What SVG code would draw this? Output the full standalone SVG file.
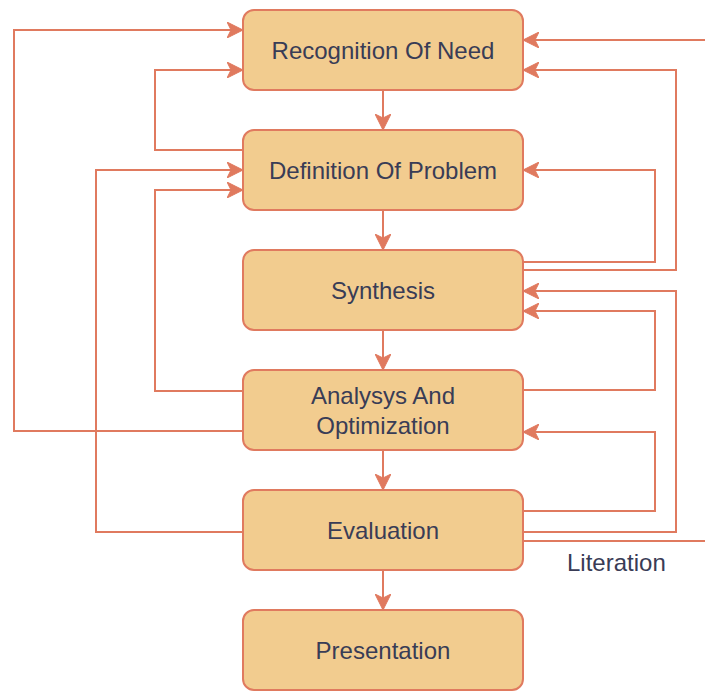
<svg xmlns="http://www.w3.org/2000/svg" width="705" height="692" viewBox="0 0 705 692">
  <style>
    .box rect { fill: #F2CC8F; stroke: #E07A5F; stroke-width: 2; }
    .box text, .lbl { font-family: "Liberation Sans", Arial, sans-serif; font-size: 24px; fill: #393C56; text-anchor: middle; }
    .lbl { text-anchor: start; }
    .edges path { fill: none; stroke: #E07A5F; stroke-width: 2; marker-end: url(#arrow); }
  </style>
  <defs>
    <marker id="arrow" viewBox="0 0 16 16" refX="15" refY="8" markerWidth="16" markerHeight="16" markerUnits="userSpaceOnUse" orient="auto">
      <path d="M0,0 L16,8 L0,16 L4,8 Z" fill="#E07A5F" stroke="#E07A5F" stroke-width="1"/>
    </marker>
  </defs>
  <rect width="705" height="692" fill="#FFFFFF"/>

  <!-- connectors -->
  <g class="edges">
    <!-- main flow -->
    <path d="M383,90 L383,129"/>
    <path d="M383,210 L383,249"/>
    <path d="M383,330 L383,369"/>
    <path d="M383,450 L383,489"/>
    <path d="M383,570 L383,609"/>
    <!-- right-side feedback loops -->
    <path d="M523,541 L720,541 L720,40 L524,40"/>
    <path d="M523,270 L676,270 L676,70 L524,70"/>
    <path d="M523,262 L655,262 L655,170 L524,170"/>
    <path d="M523,532 L676,532 L676,291 L524,291"/>
    <path d="M523,390 L655,390 L655,311 L524,311"/>
    <path d="M523,511 L655,511 L655,432 L524,432"/>
    <!-- left-side feedback loops -->
    <path d="M243,431 L14,431 L14,30 L242,30"/>
    <path d="M243,150 L155,150 L155,70 L242,70"/>
    <path d="M243,532 L96,532 L96,170 L242,170"/>
    <path d="M243,391 L155,391 L155,190 L242,190"/>
  </g>

  <g id="recognition" class="box">
    <rect x="243" y="10" width="280" height="80" rx="11"/>
    <text x="383" y="59">Recognition Of Need</text>
  </g>
  <g id="definition" class="box">
    <rect x="243" y="130" width="280" height="80" rx="11"/>
    <text x="383" y="179">Definition Of Problem</text>
  </g>
  <g id="synthesis" class="box">
    <rect x="243" y="250" width="280" height="80" rx="11"/>
    <text x="383" y="299">Synthesis</text>
  </g>
  <g id="analysis" class="box">
    <rect x="243" y="370" width="280" height="80" rx="11"/>
    <text x="383" y="404">Analysys And</text>
    <text x="383" y="434">Optimization</text>
  </g>
  <g id="evaluation" class="box">
    <rect x="243" y="490" width="280" height="80" rx="11"/>
    <text x="383" y="539">Evaluation</text>
  </g>
  <g id="presentation" class="box">
    <rect x="243" y="610" width="280" height="80" rx="11"/>
    <text x="383" y="659">Presentation</text>
  </g>

  <text class="lbl" x="567" y="571">Literation</text>
</svg>
